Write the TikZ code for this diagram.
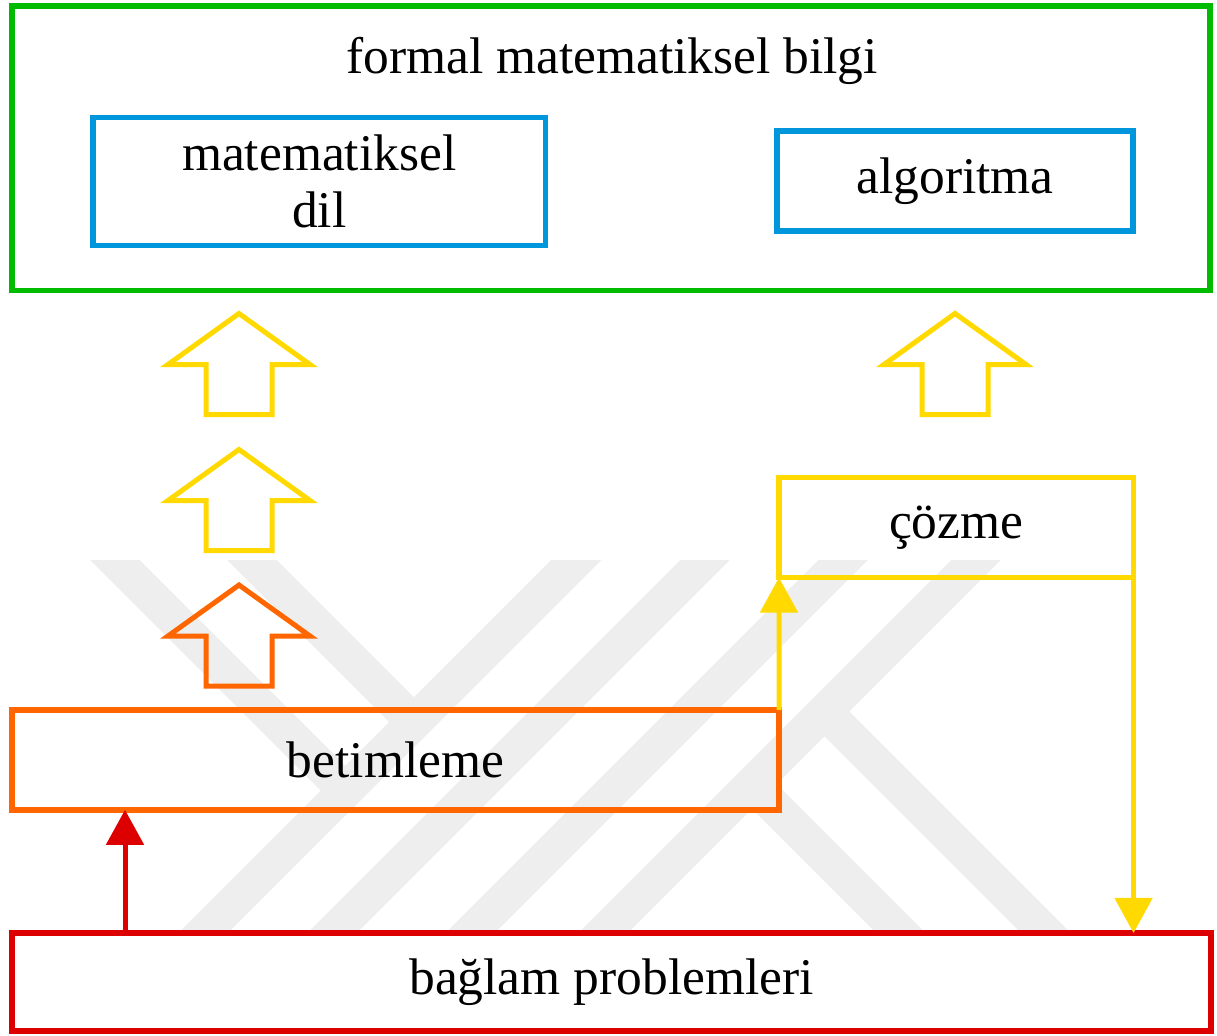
\documentclass[tikz,border=0pt]{standalone}
\usepackage{fontspec}
\setmainfont{Liberation Serif}
\usetikzlibrary{arrows.meta}

\definecolor{frameGreen}{RGB}{0,187,0}
\definecolor{boxBlue}{RGB}{0,150,219}
\definecolor{lineYellow}{RGB}{255,217,0}
\definecolor{lineOrange}{RGB}{255,102,0}
\definecolor{lineRed}{RGB}{221,0,0}
\definecolor{markGray}{RGB}{238,238,238}

\tikzset{
    box/.style={draw, rectangle, line width=0.14cm, inner sep=0pt, outer sep=0pt},
    flow/.style={line width=0.125cm, -{Triangle[length=0.875cm, width=0.925cm]}},
    blockup/.pic={\draw[line width=0.125cm] (-33,0) -- (-33,-50) -- (-71,-50) -- (0,-101) -- (71,-50) -- (33,-50) -- (33,0) -- cycle;}
}

\begin{document}
\begin{tikzpicture}[x=0.025cm, y=-0.025cm, font=\fontsize{36.6}{41}\selectfont]
        \useasboundingbox (0,0) rectangle (1217,1035);

        % faint watermark
        \begin{scope}
            \clip (88,560) rectangle (1100,930);
            \foreach \t in {596,725,863,996}
                \draw[markGray, line width=0.875cm] (\t,540) -- (\t-410,950);
            \draw[markGray, line width=0.875cm] (95,540) -- (345.5,790.5) -- (596,540);
            \draw[markGray, line width=0.875cm] (232,540) -- (414,722) -- (596,540);
            \draw[markGray, line width=0.875cm] (824.5,711.5) -- (1063,950);
            \draw[markGray, line width=0.875cm] (752,784) -- (918,950);
        \end{scope}

        \node[box, draw=frameGreen, minimum width=29.95cm, minimum height=7.11cm] (formal) at (611,148.25) {};
        \node[anchor=base] (formaltitle) at (612,73) {formal matematiksel bilgi};
        \node[box, draw=boxBlue, minimum width=11.31cm, minimum height=3.2cm, align=center] (matdil) at (319.25,181.5) {matematiksel\\dil};
        \node[box, draw=boxBlue, minimum width=8.9cm, minimum height=2.5cm] (algo) at (955,181) {algoritma};

        \node[box, draw=lineYellow, minimum width=8.8625cm, minimum height=2.5cm] (cozme) at (956.25,527.5) {çözme};
        \node[box, draw=lineOrange, minimum width=19.175cm, minimum height=2.49cm] (betim) at (395.5,760) {betimleme};
        \node[box, draw=lineRed, minimum width=29.975cm, minimum height=2.45cm] (baglam) at (611.5,982) {bağlam problemleri};

        \foreach \by/\col in {414.5/lineYellow, 550.5/lineYellow, 686/lineOrange}
            \pic[color=\col] at (239,\by) {blockup};
        \pic[color=lineYellow] at (955,414.5) {blockup};

        \coordinate (redfoot) at (125,0);
        \draw[flow, lineRed] (baglam.north -| redfoot) -- (betim.south -| redfoot);
        \draw[flow, lineYellow] (betim.north east) -- (cozme.south west);
        \draw[flow, lineYellow] (cozme.south east) -- (baglam.north -| cozme.south east);
\end{tikzpicture}
\end{document}
